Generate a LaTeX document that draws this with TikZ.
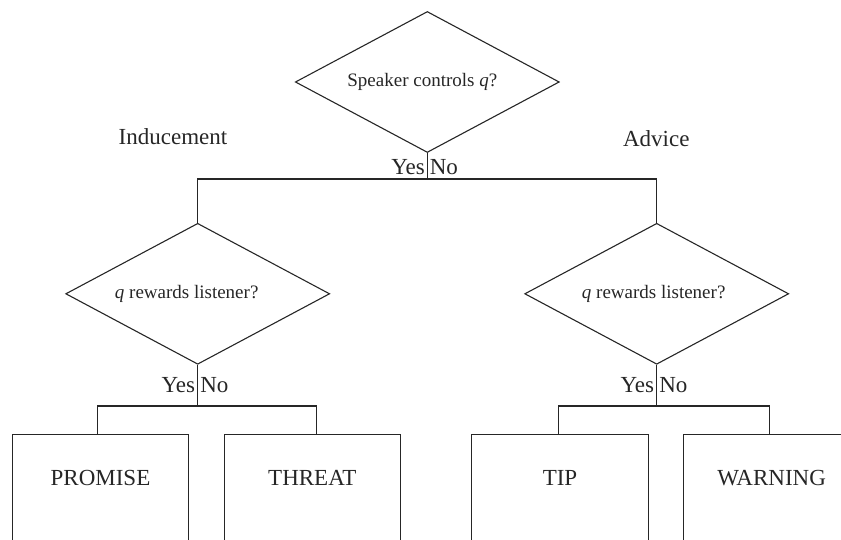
\documentclass[tikz,border=0pt]{standalone}
\usepackage{fontspec}
\setmainfont{Liberation Serif}
\usetikzlibrary{shapes.geometric}

\tikzset{
	question/.style={diamond, draw, aspect=1.9, inner sep=0pt,
		minimum width=264pt, minimum height=141pt,
		font=\fontsize{19}{22}\selectfont},
	act/.style={rectangle, draw, anchor=north, minimum width=176.5pt,
		inner sep=0pt, text height=50.7pt, text depth=120pt,
		font=\fontsize{23}{27}\selectfont},
	answer/.style={inner sep=2pt, font=\fontsize{23}{27}\selectfont},
	kind/.style={anchor=base, font=\fontsize{23}{27}\selectfont}
}

\begin{document}
\begin{tikzpicture}[x=1pt,y=1pt,line width=1.1pt,color=black!85]
	\useasboundingbox (0,0) rectangle (841,540);
	\clip (0,0) rectangle (841,540);

	% Questions
	\node[question] (ctrl) at (427.3,458) {Speaker controls \textit{q}?\hspace*{10pt}};
	\node[question] (rewL) at (197.7,246.2) {\textit{q} rewards listener?\hspace*{22pt}};
	\node[question] (rewR) at (656.7,246.2) {\textit{q} rewards listener?\hspace*{6pt}};

	% Speech acts
	\node[act] (promise) at (100.5,105.7) {PROMISE};
	\node[act] (threat)  at (312.3,105.7) {THREAT};
	\node[act] (tip)     at (560,105.7)   {TIP};
	\node[act] (warning) at (771.6,105.7) {WARNING};

	% Fork points
	\coordinate (top)   at (427.3,361);
	\coordinate (forkL) at (197.7,134);
	\coordinate (forkR) at (656.7,134);

	% Branches
	\draw (ctrl.south) -- (top);
	\draw (rewL.north) |- (top) -| (rewR.north);
	\draw (rewL.south) -- (forkL);
	\draw ([xshift=-2.8pt]promise.north) |- (forkL) -| ([xshift=4.4pt]threat.north);
	\draw (rewR.south) -- (forkR);
	\draw ([xshift=-1.7pt]tip.north) |- (forkR) -| ([xshift=-2.3pt]warning.north);

	% Yes / No
	\node[answer, above left]  (yes0) at ([yshift=1.5pt]top) {Yes};
	\node[answer, above right] (no0)  at ([yshift=1.5pt]top) {No};
	\node[answer, above left]  (yesL) at ([yshift=11pt]forkL) {Yes};
	\node[answer, above right] (noL)  at ([yshift=11pt]forkL) {No};
	\node[answer, above left]  (yesR) at ([yshift=11pt]forkR) {Yes};
	\node[answer, above right] (noR)  at ([yshift=11pt]forkR) {No};

	% Kinds of conditional
	\node[kind] (induce) at (173,395)   {Inducement};
	\node[kind] (advice) at (656.3,393.3) {Advice};
\end{tikzpicture}
\end{document}
